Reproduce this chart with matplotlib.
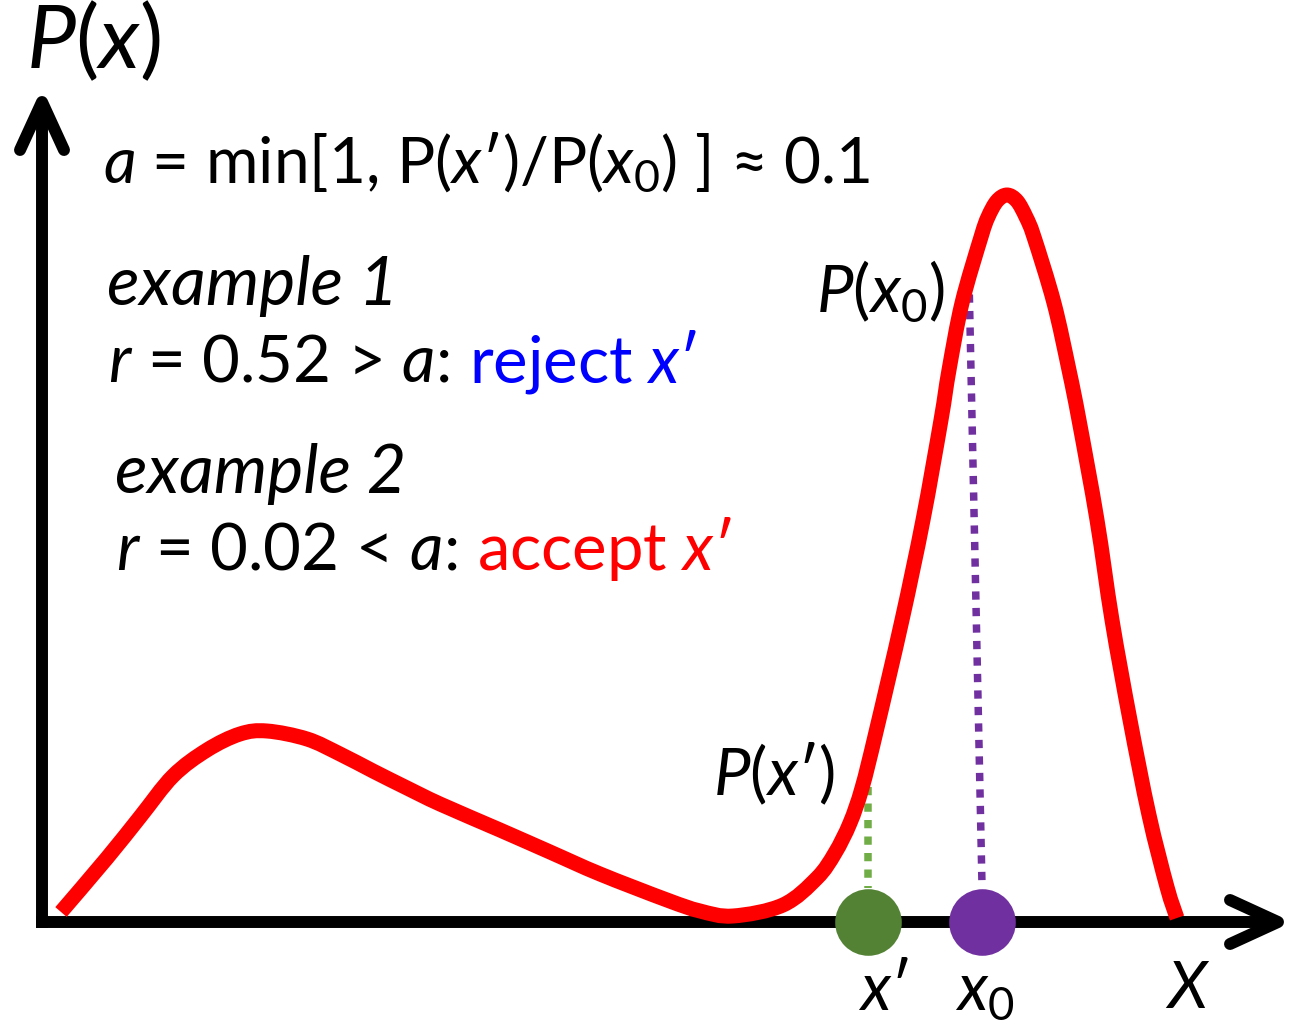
import matplotlib
matplotlib.use("Agg")
import matplotlib.pyplot as plt
from matplotlib.path import Path
from matplotlib.patches import PathPatch

plt.rcParams["font.family"] = ["Lato", "DejaVu Sans"]
plt.rcParams["mathtext.fontset"] = "custom"
plt.rcParams["mathtext.rm"] = "Lato"
plt.rcParams["mathtext.it"] = "Lato:italic"

# density P(x), units of 100 px with the origin at the axes corner
curve_x = [0.19, 0.65, 0.98, 1.31, 1.65, 1.98, 2.25, 2.65, 2.98, 3.31, 3.65,
           3.98, 4.58, 5.08, 5.58, 6.25, 6.58, 6.91, 7.41, 7.75, 7.93, 8.08,
           8.20, 8.34, 8.60, 8.81, 8.99, 9.07, 9.20, 9.39, 9.46, 9.55, 9.65,
           9.75, 9.84, 9.92, 10.12, 10.27, 10.37, 10.55, 10.70, 10.88, 11.07,
           11.25, 11.35]
curve_p = [0.10, 0.64, 1.05, 1.46, 1.72, 1.88, 1.91, 1.83, 1.68, 1.51, 1.34,
           1.18, 0.92, 0.70, 0.48, 0.22, 0.11, 0.06, 0.17, 0.44, 0.69, 0.99,
           1.34, 1.90, 3.02, 4.02, 5.02, 5.52, 6.19, 6.85, 7.05, 7.21, 7.27,
           7.21, 7.05, 6.85, 6.19, 5.52, 5.02, 4.02, 3.02, 2.02, 1.07,
           0.35, 0.04]

# proposal x' and current state x0
x_prime, p_prime = 8.26, 1.35
x0, p_x0 = 9.40, 6.44
x0_top = 9.27  # guide line to P(x0) leans slightly

acceptance = 0.1
r_values = [0.52, 0.02]

x_end, y_end = 12.36, 8.20
BLACK = "black"
FS = 47


def smooth_path(xs, ys):
    # Catmull-Rom through the points, written as cubic Bezier segments
    pts = list(zip(xs, ys))
    pts = [pts[0]] + pts + [pts[-1]]
    verts = [pts[1]]
    codes = [Path.MOVETO]
    for i in range(1, len(pts) - 2):
        p0, p1, p2, p3 = pts[i - 1], pts[i], pts[i + 1], pts[i + 2]
        c1 = (p1[0] + (p2[0] - p0[0]) / 6, p1[1] + (p2[1] - p0[1]) / 6)
        c2 = (p2[0] - (p3[0] - p1[0]) / 6, p2[1] - (p3[1] - p1[1]) / 6)
        verts += [c1, c2, p2]
        codes += [Path.CURVE4] * 3
    return Path(verts, codes)


fig = plt.figure(figsize=(12.89, 10.32), dpi=100)
ax = fig.add_axes([0, 0, 1, 1])
ax.set_xlim(-0.42, 12.47)
ax.set_ylim(-1.10, 9.22)
ax.axis("off")

# axes with open arrow heads
axis_lw = 8.6
ax.plot([0, 0], [-0.06, y_end - 0.05], color=BLACK, lw=axis_lw,
        solid_capstyle="butt", zorder=2)
ax.plot([-0.06, x_end - 0.05], [0, 0], color=BLACK, lw=axis_lw,
        solid_capstyle="butt", zorder=2)
ax.plot([-0.22, 0, 0.22], [y_end - 0.48, y_end, y_end - 0.48], color=BLACK,
        lw=axis_lw, solid_capstyle="round", solid_joinstyle="round", zorder=2)
ax.plot([x_end - 0.48, x_end, x_end - 0.48], [0.22, 0, -0.22], color=BLACK,
        lw=axis_lw, solid_capstyle="round", solid_joinstyle="round", zorder=2)

ax.add_patch(PathPatch(smooth_path(curve_x, curve_p), fill=False,
                       edgecolor="#ff0000", lw=10.8, capstyle="butt",
                       joinstyle="round", zorder=3))

# dotted guides down to the sample points
dots = (0, (1.1, 1.1))
ax.plot([x_prime, x_prime], [p_prime, 0.34], color="#70ad47", lw=5.4,
        ls=dots, dash_capstyle="butt", zorder=2.5)
ax.plot([x0_top, x0], [p_x0, 0.37], color="#7030a0", lw=5.4,
        ls=dots, dash_capstyle="butt", zorder=2.5)
ax.scatter([x_prime], [0], s=2300, color="#548235", zorder=4, linewidths=0)
ax.scatter([x0], [0], s=2300, color="#7030a0", zorder=4, linewidths=0)

renderer = fig.canvas.get_renderer()


def write_line(x, y, pieces, size=FS, gap=0.2):
    # lay coloured pieces side by side on one baseline
    for text, color in pieces:
        t = ax.text(x, y, text, color=color, fontsize=size, ha="left",
                    va="baseline")
        bb = t.get_window_extent(renderer)
        x = ax.transData.inverted().transform((bb.x1, bb.y0))[0] + gap


ax.text(-0.16, 8.54, "$P(x)$", fontsize=63, ha="left", va="baseline")
ax.text(0.61, 7.39, "$a$ = min[1, P($x$′)/P($x_0$) ] ≈ %g" % acceptance,
        fontsize=FS - 1, ha="left", va="baseline")

rows = [(0.65, 6.17, 5.40), (0.73, 4.29, 3.52)]
for i, ((tx, y_head, y_rule), r) in enumerate(zip(rows, r_values)):
    ax.text(tx, y_head, "example %d" % (i + 1), fontsize=FS + 2,
            fontstyle="italic", ha="left", va="baseline")
    if r > acceptance:
        rule, verdict, col = "$r$ = %g > $a$:" % r, "reject $x$′", "#0000ff"
    else:
        rule, verdict, col = "$r$ = %g < $a$:" % r, "accept $x$′", "#ff0000"
    write_line(tx + 0.01, y_rule, [(rule, BLACK), (verdict, col)])

ax.text(x0_top - 0.24, p_x0 - 0.34, "$P(x_0)$", fontsize=FS, ha="right",
        va="baseline")
ax.text(x_prime - 0.33, p_prime - 0.08, "$P(x′)$", fontsize=FS, ha="right",
        va="baseline")
ax.text(x_prime - 0.10, -0.88, "$x$′", fontsize=FS, ha="left", va="baseline")
ax.text(x0 - 0.27, -0.88, "$x_0$", fontsize=FS, ha="left", va="baseline")
ax.text(11.23, -0.86, "$X$", fontsize=FS, ha="left", va="baseline")

fig.savefig("out.png", dpi=100)
